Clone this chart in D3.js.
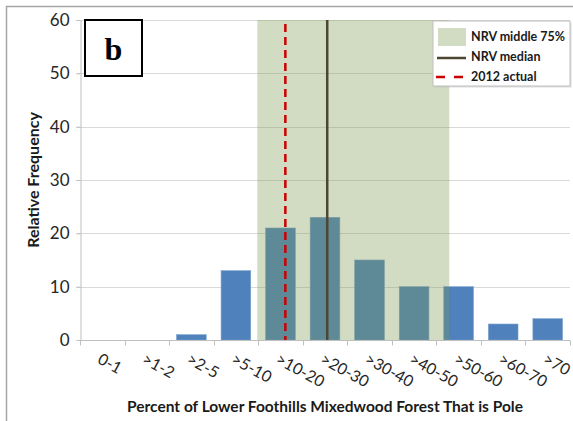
<!DOCTYPE html>
<html><head><meta charset="utf-8">
<script src="https://cdn.jsdelivr.net/npm/d3@7"></script>
<style>body{margin:0;background:#fff}svg{display:block}</style>
</head><body>
<svg id="c" width="573" height="421"></svg>
<script>
const categories = ["0-1",">1-2",">2-5",">5-10",">10-20",">20-30",">30-40",">40-50",">50-60",">60-70",">70"];
const frequency = [0,0,1,13,21,23,15,10,10,3,4];
const yTicks = [0,10,20,30,40,50,60];
// reference positions in category-index units
const nrvMiddle = [3.98, 8.29];
const nrvMedian = [5.55];
const actual2012 = [4.61];
const legendItems = ["NRV middle 75%","NRV median","2012 actual"];

const svg = d3.select("#c");
const L=80,R=570,T=20,B=340;
const font = "Lato, 'Open Sans', sans-serif";
const x = d3.scaleBand().domain(categories).range([L,R]).paddingInner(1/3).paddingOuter(1/6);
const xi = d3.scaleLinear().domain([0,categories.length]).range([L,R]);
const y = d3.scaleLinear().domain([0,60]).range([B,T]);

// frame
svg.append("path").attr("d","M6.5,421V6.5H573").attr("fill","none").attr("stroke","#a6a6a6").attr("stroke-width",1.5);

// gridlines
svg.append("g").selectAll("line").data(yTicks.filter(d=>d>0)).join("line")
  .attr("x1",L-4).attr("x2",R).attr("y1",d=>Math.round(y(d))+0.5).attr("y2",d=>Math.round(y(d))+0.5)
  .attr("stroke","#d9d9d9");

// bars
svg.append("g").selectAll("rect").data(frequency).join("rect")
  .attr("x",(d,i)=>x(categories[i])).attr("width",x.bandwidth())
  .attr("y",d=>y(d)).attr("height",d=>B-y(d))
  .attr("fill","#4f81bd").attr("stroke","#7fa3d0").attr("stroke-width",0.6);

// NRV band
svg.append("rect").attr("x",xi(nrvMiddle[0])).attr("width",xi(nrvMiddle[1])-xi(nrvMiddle[0]))
  .attr("y",y(60)).attr("height",B-y(60)).attr("fill","rgb(122,152,76)").attr("fill-opacity",0.34);

// y axis
const ya = svg.append("g").attr("transform",`translate(${L+0.5},0)`)
  .call(d3.axisLeft(y).tickValues(yTicks).tickSize(4).tickSizeOuter(0));
ya.select(".domain").attr("stroke","#bfbfbf");
ya.selectAll(".tick line").attr("stroke","#bfbfbf");
ya.selectAll("text").attr("font-family",font).attr("font-size",17).attr("fill","#262626").attr("x",-11);

// x axis
const xa = svg.append("g").attr("transform",`translate(0,${B+0.5})`);
xa.append("line").attr("x1",L).attr("x2",R).attr("stroke","#bfbfbf");
xa.selectAll("line.t").data(d3.range(categories.length+1)).join("line").attr("class","t")
  .attr("x1",d=>Math.round(xi(d))+0.5).attr("x2",d=>Math.round(xi(d))+0.5).attr("y1",0).attr("y2",5).attr("stroke","#bfbfbf");
xa.selectAll("text").data(categories).join("text")
  .attr("transform",d=>`translate(${x(d)+x.bandwidth()/2-3},${17}) rotate(29)`)
  .attr("font-family",font).attr("font-size",16).attr("fill","#262626").attr("dy","0.35em")
  .text(d=>d);

// median and 2012 lines
svg.selectAll("line.med").data(nrvMedian).join("line").attr("class","med")
  .attr("x1",d=>xi(d)).attr("x2",d=>xi(d)).attr("y1",T).attr("y2",B)
  .attr("stroke","#4d4631").attr("stroke-width",2.5);
svg.selectAll("line.act").data(actual2012).join("line").attr("class","act")
  .attr("x1",d=>xi(d)).attr("x2",d=>xi(d)).attr("y1",T+4).attr("y2",B)
  .attr("stroke","#cc0000").attr("stroke-width",2.5).attr("stroke-dasharray","8,5");

// b label
svg.append("rect").attr("x",85).attr("y",20).attr("width",57).attr("height",56)
  .attr("fill","#fff").attr("stroke","#000").attr("stroke-width",2);
svg.append("text").attr("x",113.5).attr("y",60).attr("text-anchor","middle")
  .attr("font-family","'Liberation Serif', 'DejaVu Serif', serif").attr("font-weight","bold").attr("font-size",32).text("b");

// legend
const lg = svg.append("g").attr("transform","translate(433,21)");
lg.append("rect").attr("x",1.5).attr("y",1.5).attr("width",137).attr("height",65).attr("fill","#bbb").attr("opacity",0.5);
lg.append("rect").attr("x",0).attr("y",0).attr("width",137).attr("height",65).attr("fill","#fff").attr("stroke","#bfbfbf");
lg.append("rect").attr("x",5).attr("y",7).attr("width",28).attr("height",18).attr("fill","rgb(122,152,76)").attr("fill-opacity",0.34);
lg.append("line").attr("x1",4).attr("x2",33).attr("y1",37).attr("y2",37).attr("stroke","#4d4631").attr("stroke-width",2.5);
lg.append("line").attr("x1",3).attr("x2",31).attr("y1",56).attr("y2",56).attr("stroke","#cc0000").attr("stroke-width",2.5).attr("stroke-dasharray","9,9");
lg.selectAll("text").data(legendItems).join("text")
  .attr("x",38).attr("y",(d,i)=>16+i*19.7).attr("dy","0.35em")
  .attr("font-family",font).attr("font-weight","bold").attr("font-size",12.5).attr("fill","#1a1a1a").text(d=>d);

// axis titles
svg.append("text").attr("x",(L+R)/2).attr("y",407).attr("dy","0.35em").attr("text-anchor","middle")
  .attr("font-family",font).attr("font-weight","bold").attr("font-size",15.5).attr("fill","#1a1a1a")
  .text("Percent of Lower Foothills Mixedwood Forest That is Pole");
svg.append("text").attr("transform",`translate(33,${(T+B)/2}) rotate(-90)`).attr("dy","0.35em").attr("text-anchor","middle")
  .attr("font-family",font).attr("font-weight","bold").attr("font-size",16).attr("fill","#1a1a1a")
  .text("Relative Frequency");
</script>
</body></html>
